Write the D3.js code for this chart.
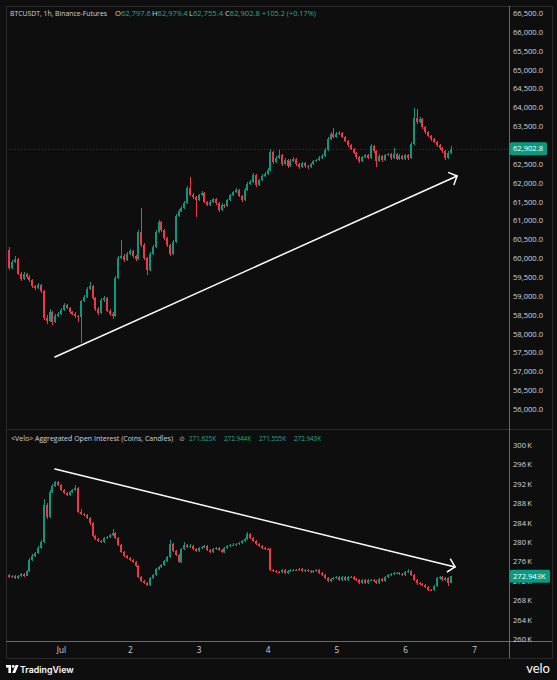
<!DOCTYPE html>
<html><head><meta charset="utf-8">
<script src="https://cdn.jsdelivr.net/npm/d3@7"></script>
<style>
html,body{margin:0;padding:0;background:#0e0e0e;}
svg{display:block;font-family:"Open Sans",sans-serif;}
</style></head><body>
<svg id="c" width="557" height="680"></svg>
<script>
// ---------- DATA ----------
const firstCandle = Date.UTC(2024, 5, 30, 6); // Jun 30 06:00, 1h candles
const priceOpen0 = 60217;
const priceClose = [59740,59899,59979,59581,59448,59581,59501,59422,59263,59210,
 59289,59130,58415,58335,58574,58309,58468,58521,58627,58759,
 58680,58574,58521,58468,58441,58865,58971,59183,59263,58945,
 58653,58547,58892,58945,58600,58521,58468,59475,60005,60058,
 59952,60111,60191,60058,59979,60694,60350,60005,59687,60111,
 60297,60694,60959,60747,60535,60350,60111,60429,61119,61251,
 61331,61463,61861,61675,61622,61543,61675,61728,61490,61410,
 61490,61569,61463,61278,61410,61384,61543,61675,61755,61808,
 61649,61543,61808,61967,62020,62205,61940,62073,62179,62232,
 62338,62815,62550,62656,62736,62497,62603,62444,62577,62630,
 62497,62417,62524,62444,62417,62497,62577,62603,62656,62709,
 62868,63160,63292,63213,63292,63319,63213,63107,63001,62895,
 62789,62683,62577,62683,62736,62656,62974,62842,62577,62709,
 62603,62736,62762,62656,62762,62630,62709,62630,62736,62656,
 63027,63716,63610,63690,63478,63345,63239,63160,63080,63001,
 62921,62842,62656,62797.6,62902.8];
const priceHigh = [60300,59960,60060,60000,59620,59640,59610,59540,59450,59300,
 59330,59320,59150,58500,58640,58600,58520,58580,58680,58800,
 58790,58700,58600,58560,58500,58900,59010,59230,59380,59290,
 58970,58700,58930,59000,58970,58640,58560,59520,60060,60480,
 60120,60160,60250,60220,60090,60750,61330,60400,60040,60160,
 60340,60740,61010,60990,60780,60570,60380,60470,61170,61300,
 61380,61510,61920,62150,61720,61660,61710,61770,61760,61520,
 61530,61600,61600,61490,61450,61440,61580,61710,61790,61850,
 61830,61680,61850,62010,62070,62250,62230,62110,62220,62280,
 62380,62900,62840,62700,62880,62760,62650,62630,62620,62680,
 62660,62530,62560,62550,62480,62530,62610,62640,62700,62760,
 62910,63210,63340,63450,63340,63360,63350,63240,63130,63030,
 62920,62810,62710,62720,62770,62760,63020,63000,62870,62750,
 62740,62770,62800,62790,62920,62790,62750,62740,62770,62760,
 63070,63980,63950,63740,63720,63510,63380,63270,63190,63110,
 63030,62950,62870,62850,62979.4];
const priceLow = [59690,59700,59860,59540,59400,59420,59460,59380,59220,59150,
 59180,59080,58350,58250,58300,58230,58280,58430,58490,58600,
 58640,58530,58480,58420,58300,57750,58830,58940,59150,58900,
 58600,58500,58520,58850,58560,58470,58380,58440,59440,59980,
 59900,59920,60080,60010,59930,59950,60300,59950,59550,59650,
 60080,60260,60660,60700,60490,60300,60060,60080,60400,61090,
 61220,61300,61440,61640,61570,61090,61510,61650,61450,61370,
 61380,61460,61420,61230,61250,61340,61360,61520,61650,61730,
 61610,61500,61520,61780,61940,61990,61890,61910,62050,62150,
 62200,62310,62500,62520,62620,62450,62470,62400,62420,62550,
 62450,62370,62390,62400,62370,62390,62470,62550,62580,62630,
 62680,62840,63130,63180,63190,63260,63180,63070,62960,62860,
 62750,62640,62530,62550,62650,62620,62630,62800,62420,62550,
 62560,62580,62700,62610,62630,62590,62600,62590,62600,62610,
 62630,63000,63570,63580,63430,63300,63200,63110,63040,62960,
 62880,62800,62600,62620,62755.4];

const oiOpen0 = 273.20;
const oiClose = [272.78,272.99,272.58,272.99,273.40,272.99,274.02,276.29,277.11,277.73,
 278.76,280.00,287.63,285.15,290.31,291.55,292.37,291.75,290.72,290.10,
 289.69,290.31,290.72,291.13,286.19,285.77,285.57,284.95,283.92,281.24,
 280.62,280.21,280.00,280.82,281.03,281.44,281.86,280.82,279.38,277.94,
 277.11,276.70,276.29,275.88,275.05,272.78,271.96,271.55,271.13,272.58,
 273.20,274.43,274.85,275.26,276.08,276.91,279.59,278.14,277.32,275.88,
 278.56,279.38,278.97,279.18,278.56,278.14,278.76,278.97,279.18,278.35,
 277.94,278.56,278.76,278.35,277.94,278.76,279.18,279.38,279.45,279.59,
 279.79,280.21,280.62,281.65,280.82,280.21,279.59,279.18,278.76,278.56,
 278.50,274.23,274.02,273.81,273.75,274.23,273.61,274.02,274.23,274.30,
 274.23,274.43,274.02,274.23,274.02,273.81,274.02,274.23,273.61,273.20,
 272.58,271.96,272.37,272.58,272.78,272.16,272.78,272.16,272.78,272.85,
 272.37,272.16,271.55,272.16,271.55,272.16,272.20,271.96,271.55,272.37,
 271.96,272.78,273.20,273.40,273.61,273.65,273.40,273.20,273.81,274.02,
 273.20,272.16,271.55,271.34,271.13,270.72,270.10,270.05,270.93,272.58,
 272.78,272.16,272.58,271.625,272.943];
const oiHigh = [273.45,273.25,273.10,273.20,273.60,273.55,274.30,276.60,277.50,278.00,
 279.10,280.40,288.90,288.10,290.70,291.90,292.60,292.50,291.90,290.90,
 290.30,290.50,290.90,291.80,291.40,286.80,285.95,285.75,285.10,284.10,
 281.45,280.85,280.40,281.05,281.30,281.70,282.60,282.10,281.00,279.55,
 278.15,277.30,276.90,276.50,276.05,275.25,273.00,272.15,271.75,272.80,
 273.45,274.70,275.10,275.50,276.35,277.20,280.40,279.80,278.35,277.50,
 278.80,280.00,279.60,279.50,279.40,278.75,278.95,279.20,279.40,279.35,
 278.55,278.80,279.00,278.95,278.55,278.95,279.40,279.60,279.70,279.85,
 280.05,280.45,280.85,282.10,281.85,281.00,280.40,279.80,279.40,278.95,
 278.80,278.70,274.45,274.20,274.00,274.45,274.40,274.25,274.45,274.50,
 274.50,274.65,274.60,274.45,274.40,274.20,274.25,274.45,274.40,273.80,
 273.40,272.75,272.60,272.80,273.00,272.95,273.00,272.95,273.00,273.05,
 273.00,272.55,272.35,272.40,272.35,272.40,272.40,272.40,272.15,272.60,
 272.55,273.00,273.40,273.60,273.85,273.90,273.85,273.60,274.05,274.40,
 274.20,273.40,272.35,271.75,271.55,271.30,270.90,270.35,271.20,272.85,
 273.00,273.00,272.80,272.70,272.944];
const oiLow = [272.55,272.60,272.40,272.45,272.85,272.80,272.90,273.90,276.10,276.95,
 277.60,278.60,279.80,284.80,285.00,290.10,291.40,291.50,290.50,289.90,
 289.45,289.55,290.15,290.55,285.90,285.50,285.30,284.70,283.60,280.95,
 280.40,280.00,279.75,279.85,280.65,280.90,281.30,280.60,279.10,277.70,
 276.85,276.45,276.05,275.60,274.80,272.50,271.70,271.30,270.85,270.95,
 272.40,273.00,274.25,274.65,275.05,275.90,276.70,277.90,277.10,275.60,
 275.70,278.35,278.70,278.75,278.30,277.90,277.95,278.55,278.80,278.10,
 277.70,277.75,278.35,278.10,277.70,277.75,278.55,278.95,279.15,279.25,
 279.40,279.60,280.00,280.45,280.60,280.00,279.35,278.95,278.55,278.35,
 278.25,274.00,273.80,273.60,273.55,273.55,273.40,273.45,273.85,274.05,
 274.05,274.05,273.80,273.85,273.80,273.60,273.65,273.85,273.40,273.00,
 272.35,271.70,271.80,272.20,272.40,271.95,272.00,271.95,272.00,272.60,
 272.15,271.95,271.30,271.40,271.30,271.40,271.95,271.75,271.30,271.40,
 271.75,271.80,272.60,273.00,273.20,273.40,273.20,273.00,273.00,273.60,
 273.00,271.90,271.20,271.10,270.90,270.45,269.80,269.80,269.85,270.70,
 272.35,271.90,271.95,270.90,271.555];

const dayTicks = ["2024-07-01","2024-07-02","2024-07-03","2024-07-04","2024-07-05","2024-07-06","2024-07-07"];
const dayLabels = ["Jul","2","3","4","5","6","7"];
const priceTicks = [56000,56500,57000,57500,58000,58500,59000,59500,60000,60500,61000,61500,62000,62500,63000,63500,64000,64500,65000,65500,66000,66500];
const oiTicks = [260,264,268,272,276,280,284,288,292,296,300];

const priceTitle = "BTCUSDT, 1h, Binance-Futures";
const oiTitle = "<Velo> Aggregated Open Interest (Coins, Candles)";
// annotation arrows drawn by the author: [start time, start value, end time, end value]
const priceArrow = ["2024-06-30T21:54Z", 57380, "2024-07-06T18:06Z", 62179];
const oiArrow = ["2024-06-30T21:54Z", 295.05, "2024-07-06T17:24Z", 274.85];

// ---------- LAYOUT ----------
const W = 557, H = 680;
const frame = {l: 6, r: 552, t: 6, b: 658};
const axisX = 509;
const pane1 = {t: 6, b: 429};
const pane2 = {t: 429, b: 641};
const UP = "#089981", DN = "#f23645", TXT = "#d1d4dc";

const svg = d3.select("#c");
svg.append("rect").attr("width", W).attr("height", H).attr("fill", "#0e0e0e");

const x = d3.scaleUtc().domain([new Date(dayTicks[0]), new Date(dayTicks[6])]).range([61, 474]);
const yP = d3.scaleLinear().domain([56000, 66500]).range([409, 13]);
const yO = d3.scaleLinear().domain([260, 300]).range([639, 445]);

const defs = svg.append("defs");
defs.append("clipPath").attr("id", "cp1").append("rect").attr("x", frame.l).attr("y", pane1.t).attr("width", axisX - frame.l).attr("height", pane1.b - pane1.t);
defs.append("clipPath").attr("id", "cp2").append("rect").attr("x", frame.l).attr("y", pane2.t).attr("width", axisX - frame.l).attr("height", pane2.b - pane2.t);

function candles(closes, highs, lows, open0) {
  return closes.map((c, i) => ({
    t: new Date(firstCandle + i * 3600e3),
    o: i ? closes[i - 1] : open0, c, h: highs[i], l: lows[i]
  }));
}

function drawCandles(clip, data, y) {
  const g = svg.append("g").attr("clip-path", `url(#${clip})`).attr("shape-rendering", "crispEdges");
  const c = g.selectAll("g").data(data).join("g");
  c.append("rect")
    .attr("x", d => Math.round(x(d.t))).attr("width", 1)
    .attr("y", d => y(d.h)).attr("height", d => Math.max(1, y(d.l) - y(d.h)))
    .attr("fill", d => d.c >= d.o ? UP : DN);
  c.append("rect")
    .attr("x", d => Math.round(x(d.t)) - 1).attr("width", 2)
    .attr("y", d => y(Math.max(d.o, d.c)))
    .attr("height", d => Math.max(1, Math.abs(y(d.o) - y(d.c))))
    .attr("fill", d => d.c >= d.o ? UP : DN);
  return g;
}

const pData = candles(priceClose, priceHigh, priceLow, priceOpen0);
const oData = candles(oiClose, oiHigh, oiLow, oiOpen0);

// last price line
const lastP = pData[pData.length - 1];
svg.append("line").attr("x1", frame.l).attr("x2", axisX).attr("y1", Math.round(yP(lastP.c)) + 0.5).attr("y2", Math.round(yP(lastP.c)) + 0.5)
  .attr("stroke", UP).attr("stroke-opacity", 0.4).attr("stroke-dasharray", "1,2").attr("stroke-width", 1);

drawCandles("cp1", pData, yP);
drawCandles("cp2", oData, yO);

// frame & separators
const lineC = "#2a2a2a";
svg.append("rect").attr("x", frame.l + 0.5).attr("y", frame.t + 0.5).attr("width", frame.r - frame.l).attr("height", frame.b - frame.t)
  .attr("fill", "none").attr("stroke", lineC);
svg.append("line").attr("x1", frame.l).attr("x2", frame.r).attr("y1", pane1.b + 0.5).attr("y2", pane1.b + 0.5).attr("stroke", lineC);
svg.append("line").attr("x1", frame.l).attr("x2", frame.r).attr("y1", pane2.b + 0.5).attr("y2", pane2.b + 0.5).attr("stroke", "#6a6a6a");
svg.append("line").attr("x1", axisX + 0.5).attr("x2", axisX + 0.5).attr("y1", frame.t).attr("y2", frame.b).attr("stroke", "#6a6a6a");

// right axes
const fs = 7.6;
const ayP = svg.append("g").attr("transform", `translate(${axisX},0)`)
  .call(d3.axisRight(yP).tickValues(priceTicks).tickSize(0).tickPadding(4).tickFormat(d3.format(",.1f")));
const ayO = svg.append("g").attr("transform", `translate(${axisX},0)`)
  .call(d3.axisRight(yO).tickValues(oiTicks).tickSize(0).tickPadding(4).tickFormat(d => d + "\u2009K"));
[ayP, ayO].forEach(a => {
  a.select(".domain").remove();
  a.selectAll("text").attr("fill", TXT).attr("font-size", fs).attr("font-family", "Open Sans, sans-serif");
});

// time axis
const ax = svg.append("g").attr("transform", `translate(0,${pane2.b})`)
  .call(d3.axisBottom(x).tickValues(dayTicks.map(d => new Date(d))).tickSize(0).tickPadding(6)
    .tickFormat((d, i) => dayLabels[i]));
ax.select(".domain").remove();
ax.selectAll("text").attr("fill", TXT).attr("font-size", 8.2).attr("font-family", "Open Sans, sans-serif");

// last value labels
function valueTag(y, v, text, w) {
  const g = svg.append("g");
  g.append("rect").attr("x", axisX + 1).attr("y", y(v) - 6.5).attr("width", w).attr("height", 13).attr("rx", 1.5).attr("fill", UP);
  g.append("text").attr("x", axisX + 4).attr("y", y(v)).attr("dy", "0.35em").attr("fill", "#ffffff")
    .attr("font-size", fs).text(text);
}
valueTag(yP, lastP.c, d3.format(",.1f")(lastP.c), 37);
const lastO = oData[oData.length - 1];
valueTag(yO, lastO.c, d3.format(".3f")(lastO.c) + "K", 40);

// headers (segment start positions follow the legend layout)
const VAL = "#22ab94";
const fmtP = d3.format(",.1f");
const chg = lastP.c - lastP.o;
const h1 = svg.append("g").attr("font-size", 7.6);
h1.append("text").attr("x", 10).attr("y", 16).attr("fill", TXT).attr("font-size", 6.9).attr("textLength", 97).attr("lengthAdjust", "spacingAndGlyphs").text(priceTitle);
const h1x = [115, 152, 189, 225];
[["O", lastP.o], ["H", lastP.h], ["L", lastP.l], ["C", lastP.c]].forEach(([k, v], i) => {
  const t = h1.append("text").attr("x", h1x[i]).attr("y", 16);
  t.append("tspan").attr("fill", TXT).text(k);
  t.append("tspan").attr("fill", VAL).text(fmtP(v));
});
h1.append("text").attr("x", 262).attr("y", 16).attr("fill", VAL).attr("textLength", 54).attr("lengthAdjust", "spacingAndGlyphs")
  .text(`+${chg.toFixed(1)} (+${(chg / lastP.o * 100).toFixed(2)}%)`);

const fmtO = v => d3.format(".3f")(v) + "K";
const h2 = svg.append("g").attr("font-size", 7.2);
h2.append("text").attr("x", 11).attr("y", 441).attr("fill", TXT).attr("font-size", 6.9).attr("textLength", 162).attr("lengthAdjust", "spacingAndGlyphs").text(oiTitle);
h2.append("text").attr("x", 179).attr("y", 441).attr("fill", "#9a9a9a").attr("font-size", 6.5).text("\u2298");
const h2x = [189, 224, 259, 294];
[lastO.o, lastO.h, lastO.l, lastO.c].forEach((v, i) =>
  h2.append("text").attr("x", h2x[i]).attr("y", 441).attr("fill", VAL).attr("textLength", 27).attr("lengthAdjust", "spacingAndGlyphs").text(fmtO(v)));

// arrows
function arrow(a, y) {
  const x1 = x(new Date(a[0])), y1 = y(a[1]), x2 = x(new Date(a[2])), y2 = y(a[3]);
  const g = svg.append("g").attr("stroke", "#ffffff").attr("stroke-width", 1.5).attr("fill", "none").attr("stroke-linecap", "round");
  g.append("line").attr("x1", x1).attr("y1", y1).attr("x2", x2).attr("y2", y2);
  const ang = Math.atan2(y2 - y1, x2 - x1), L = 9;
  const p = [ang + Math.PI - 0.8, ang + Math.PI + 0.8].map(t => [x2 + L * Math.cos(t), y2 + L * Math.sin(t)]);
  g.append("path").attr("d", `M${p[0][0]},${p[0][1]}L${x2},${y2}L${p[1][0]},${p[1][1]}`).attr("stroke-linejoin", "round");
}
arrow(priceArrow, yP);
arrow(oiArrow, yO);

// footer: TradingView mark + text, velo
const ft = svg.append("g").attr("fill", "#ffffff");
const logo = ft.append("g").attr("transform", "translate(6,665)");
logo.append("rect").attr("x", 0).attr("y", 0).attr("width", 5).attr("height", 2.6);
logo.append("rect").attr("x", 2.4).attr("y", 0).attr("width", 2.6).attr("height", 8);
logo.append("circle").attr("cx", 7.2).attr("cy", 1.4).attr("r", 1.4);
logo.append("path").attr("d", "M9.6,0H12.6L9.2,8H6.2Z");
ft.append("text").attr("x", 20).attr("y", 673).attr("font-size", 8.8).attr("font-weight", 600).attr("font-family", "Inter, sans-serif").text("TradingView");
ft.append("text").attr("x", 550).attr("y", 673).attr("text-anchor", "end").attr("font-size", 13).attr("font-family", "Lato, sans-serif").text("velo");
</script>
</body></html>
